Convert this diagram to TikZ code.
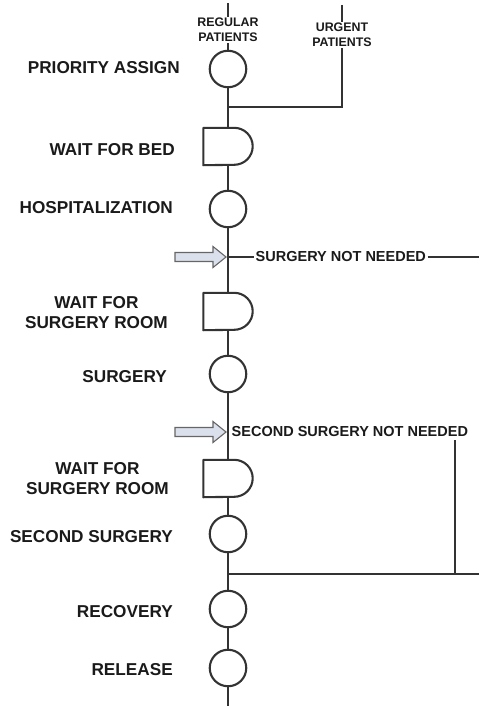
\documentclass[tikz,border=0pt]{standalone}
\usepackage{fontspec}
\setmainfont{Liberation Sans}
\definecolor{linec}{HTML}{333333}
\definecolor{txtc}{HTML}{1A1A1A}
\definecolor{arrfill}{HTML}{DAE0EC}
\definecolor{arrline}{HTML}{666666}
\begin{document}
\begin{tikzpicture}[x=1pt,y=-1pt,
  conn/.style={draw=linec, line width=2.1pt},
  proc/.style={circle, draw=linec, line width=2.1pt, minimum size=36.5pt, inner sep=0pt},
  delay/.style={rectangle, minimum width=49pt, minimum height=37pt, inner sep=0pt},
  dshape/.style={draw=linec, line width=2.1pt, line join=round},
  lbl/.style={font=\bfseries\fontsize{17.2}{20}\selectfont, text=txtc, inner sep=0pt, align=center, anchor=east},
  small/.style={font=\bfseries\fontsize{12.4}{15}\selectfont, text=txtc, inner sep=1pt, align=center},
  note/.style={font=\bfseries\fontsize{14.5}{17}\selectfont, text=txtc, inner sep=1.5pt, anchor=west},
  blockarrow/.style={fill=arrfill, draw=arrline, line width=1.1pt, line join=miter}
]
\useasboundingbox (0,0) rectangle (479,706);

% top inputs
\coordinate (topR) at (228,3);
\coordinate (topU) at (342,5);
\node[small] (reg) at (228,30) {REGULAR\\PATIENTS};
\node[small] (urg) at (342,35) {URGENT\\PATIENTS};

% process nodes
\node[proc] (c1) at (228,69) {};
\node[delay] (d1) at (228,146.5) {};
\node[proc] (c2) at (228,209) {};
\node[delay] (d2) at (228,311.5) {};
\node[proc] (c3) at (228,374) {};
\node[delay] (d3) at (228,478.5) {};
\node[proc] (c4) at (228,534) {};
\node[proc] (c5) at (228,609) {};
\node[proc] (c6) at (228,668) {};
\coordinate (bot) at (228,706);

% D shapes
\foreach \d in {d1,d2,d3}{
  \draw[dshape] (\d.north west) -- ([xshift=-18.5pt]\d.north east)
     arc[start angle=90, end angle=-90, radius=18.5pt] -- (\d.south west) -- cycle;
}

% junctions
\coordinate (j1) at (228,107);
\coordinate (ju) at (342,107);
\coordinate (a1) at (228,257);
\coordinate (a2) at (228,432);
\coordinate (j3) at (228,574);
\coordinate (r1) at (479,257);
\coordinate (v2) at (455,440);
\coordinate (j3r) at (455,574);
\coordinate (r3) at (479,574);

% labels
\node[lbl] (l1) at (180,68) {PRIORITY ASSIGN};
\node[lbl] (l2) at (175,150) {WAIT FOR BED};
\node[lbl] (l3) at (173,208) {HOSPITALIZATION};
\node[lbl] (l4) at (168,313) {WAIT FOR\\SURGERY ROOM};
\node[lbl] (l5) at (167,377) {SURGERY};
\node[lbl] (l6) at (169,479) {WAIT FOR\\SURGERY ROOM};
\node[lbl] (l7) at (173,537) {SECOND SURGERY};
\node[lbl] (l8) at (173,612) {RECOVERY};
\node[lbl] (l9) at (173,670) {RELEASE};

\node[note] (n1) at (254,257) {SURGERY NOT NEEDED};
\node[note] (n2) at (230,432) {SECOND SURGERY NOT NEEDED};

% main line
\draw[conn] (topR) -- (reg.north);
\draw[conn] (reg.south) -- (c1.north);
\draw[conn] (c1) -- (d1);
\draw[conn] (d1) -- (c2);
\draw[conn] (c2) -- (d2);
\draw[conn] (d2) -- (c3);
\draw[conn] (c3) -- (d3);
\draw[conn] (d3) -- (c4);
\draw[conn] (c4) -- (c5);
\draw[conn] (c5) -- (c6);
\draw[conn] (c6) -- (bot);

% urgent branch
\draw[conn] (topU) -- (urg.north);
\draw[conn] (urg.south) -- (ju) -- (j1);

% surgery not needed
\draw[conn] (a1) -- (n1.west);
\draw[conn] (n1.east) -- (r1);

% second surgery not needed
\draw[conn] (v2) -- (j3r);
\draw[conn] (r3) -- (j3);

% block arrows
\foreach \a in {a1,a2}{
  \draw[blockarrow] ([xshift=-53pt,yshift=-4.5pt]\a) -- ([xshift=-15pt,yshift=-4.5pt]\a)
    -- ([xshift=-15pt,yshift=-10.5pt]\a) -- ([xshift=-2pt]\a)
    -- ([xshift=-15pt,yshift=10.5pt]\a) -- ([xshift=-15pt,yshift=4.5pt]\a)
    -- ([xshift=-53pt,yshift=4.5pt]\a) -- cycle;
}
\end{tikzpicture}
\end{document}
